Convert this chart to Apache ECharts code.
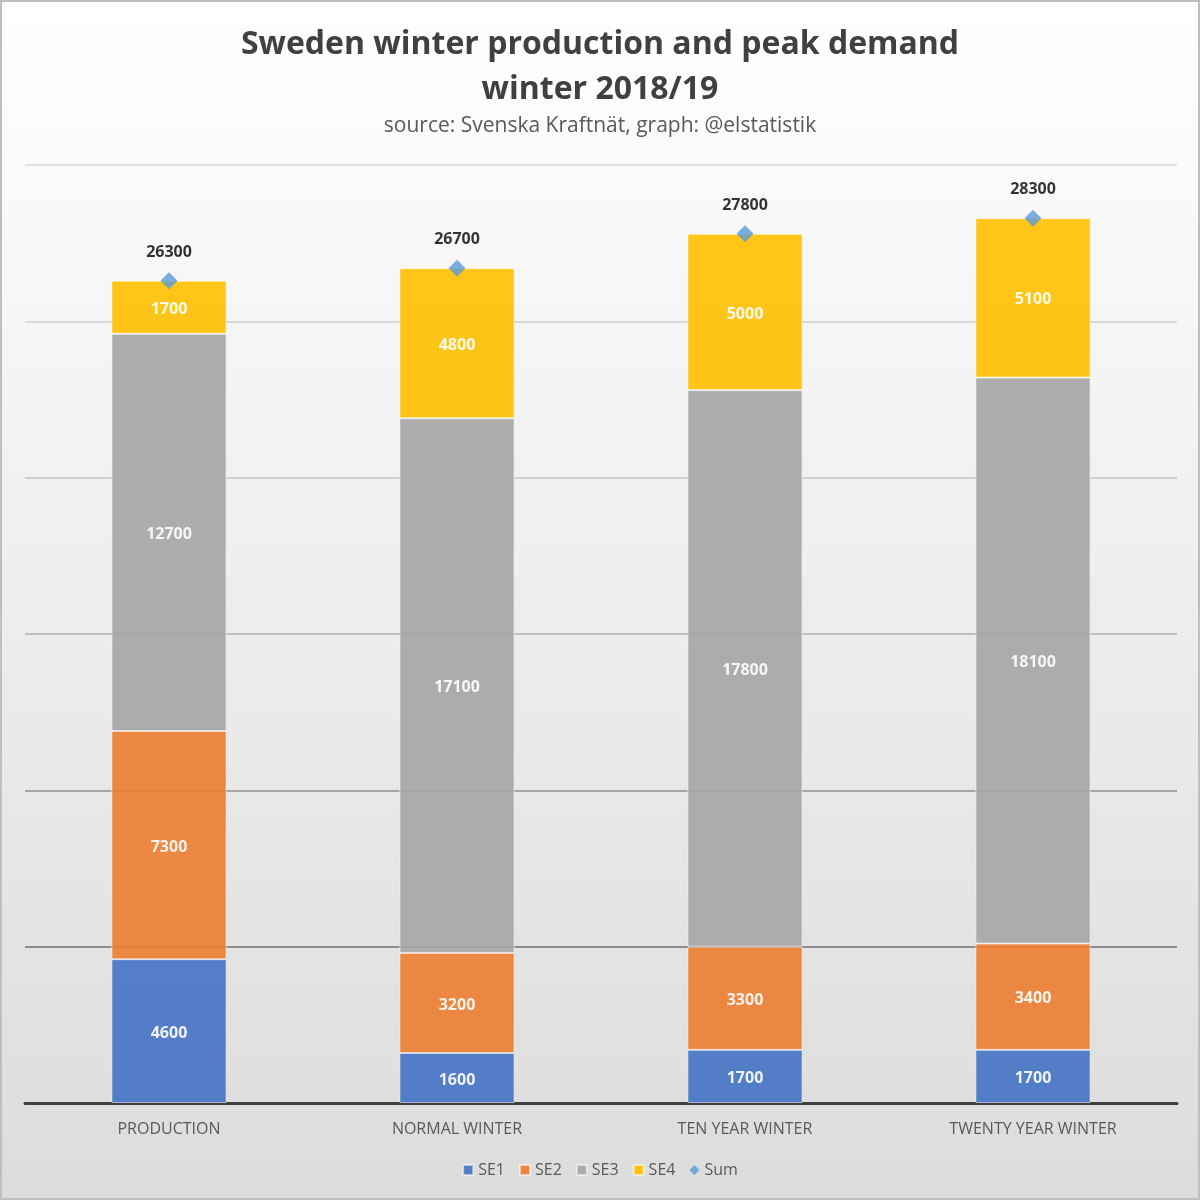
<!DOCTYPE html>
<html><head><meta charset="utf-8">
<script src="https://cdn.jsdelivr.net/npm/echarts@6/dist/echarts.min.js"></script>
<style>html,body{margin:0;padding:0;}#c{width:1200px;height:1200px;}</style>
</head><body><div id="c"></div>
<script>
const categories = ['PRODUCTION', 'NORMAL WINTER', 'TEN YEAR WINTER', 'TWENTY YEAR WINTER'];
const se1 = [4600, 1600, 1700, 1700];
const se2 = [7300, 3200, 3300, 3400];
const se3 = [12700, 17100, 17800, 18100];
const se4 = [1700, 4800, 5000, 5100];
const sum = [26300, 26700, 27800, 28300];

const FONT = '"Open Sans", "Noto Sans", sans-serif';
const chart = echarts.init(document.getElementById('c'));

function barSeries(name, data, color) {
  return {
    name, type: 'bar', stack: 'total', data, barWidth: '40%',
    itemStyle: { color, opacity: 0.9, borderColor: 'rgba(255,255,255,0.6)', borderWidth: 1 },
    label: { show: true, position: 'inside', offset: [0, 2], color: '#ffffff', fontWeight: 'bold', fontSize: 16, fontFamily: FONT },
    emphasis: { disabled: true }
  };
}

chart.setOption({
  backgroundColor: {
    type: 'linear', x: 0, y: 0, x2: 0, y2: 1,
    colorStops: [{ offset: 0, color: '#ffffff' }, { offset: 1, color: '#dcdcdc' }]
  },
  animation: false,
  title: [
    { text: 'Sweden winter production and peak demand\nwinter 2018/19', left: 'center', top: 17,
      textStyle: { fontFamily: FONT, fontSize: 32, fontWeight: 'bold', color: '#404040', lineHeight: 45 } },
    { text: 'source: Svenska Kraftnät, graph: @elstatistik', left: 'center', top: 111,
      textStyle: { fontFamily: FONT, fontSize: 21, fontWeight: 'normal', color: '#595959' } }
  ],
  graphic: [{ type: 'rect', shape: { x: 1, y: 1, width: 1198, height: 1198 }, style: { fill: 'none', stroke: '#bfbfbf', lineWidth: 2 }, silent: true }],
  legend: {
    bottom: 17, left: 'center', itemWidth: 10, itemHeight: 10, itemGap: 14,
    textStyle: { fontFamily: FONT, fontSize: 16, color: '#595959' },
    data: [
      { name: 'SE1', icon: 'rect' }, { name: 'SE2', icon: 'rect' }, { name: 'SE3', icon: 'rect' },
      { name: 'SE4', icon: 'rect' }, { name: 'Sum', icon: 'diamond' }
    ]
  },
  grid: { left: 25, right: 23, top: 165, bottom: 97 },
  xAxis: {
    type: 'category', data: categories,
    axisLine: { show: true, lineStyle: { color: '#404040', width: 3 } },
    axisTick: { show: false },
    axisLabel: { fontFamily: FONT, fontSize: 16, color: '#595959', margin: 18 }
  },
  yAxis: {
    type: 'value', min: 0, max: 30000, interval: 5000,
    axisLabel: { show: false }, axisLine: { show: false }, axisTick: { show: false },
    splitLine: { show: true, lineStyle: { width: 2, color: ['#404040', '#8c8c8c', '#a6a6a6', '#bfbfbf', '#cfcfcf', '#d9d9d9', '#e0e0e0'] } }
  },
  series: [
    barSeries('SE1', se1, '#4472c4'),
    barSeries('SE2', se2, '#ed7d31'),
    barSeries('SE3', se3, '#a5a5a5'),
    barSeries('SE4', se4, '#ffc000'),
    {
      name: 'Sum', type: 'scatter', data: sum, symbol: 'diamond', symbolSize: 17, z: 5,
      itemStyle: { color: '#5b9bd5' },
      label: { show: true, position: 'top', distance: 12, color: '#000000', fontWeight: 'bold', fontSize: 16, fontFamily: FONT },
      emphasis: { disabled: true }
    }
  ]
});
</script></body></html>
